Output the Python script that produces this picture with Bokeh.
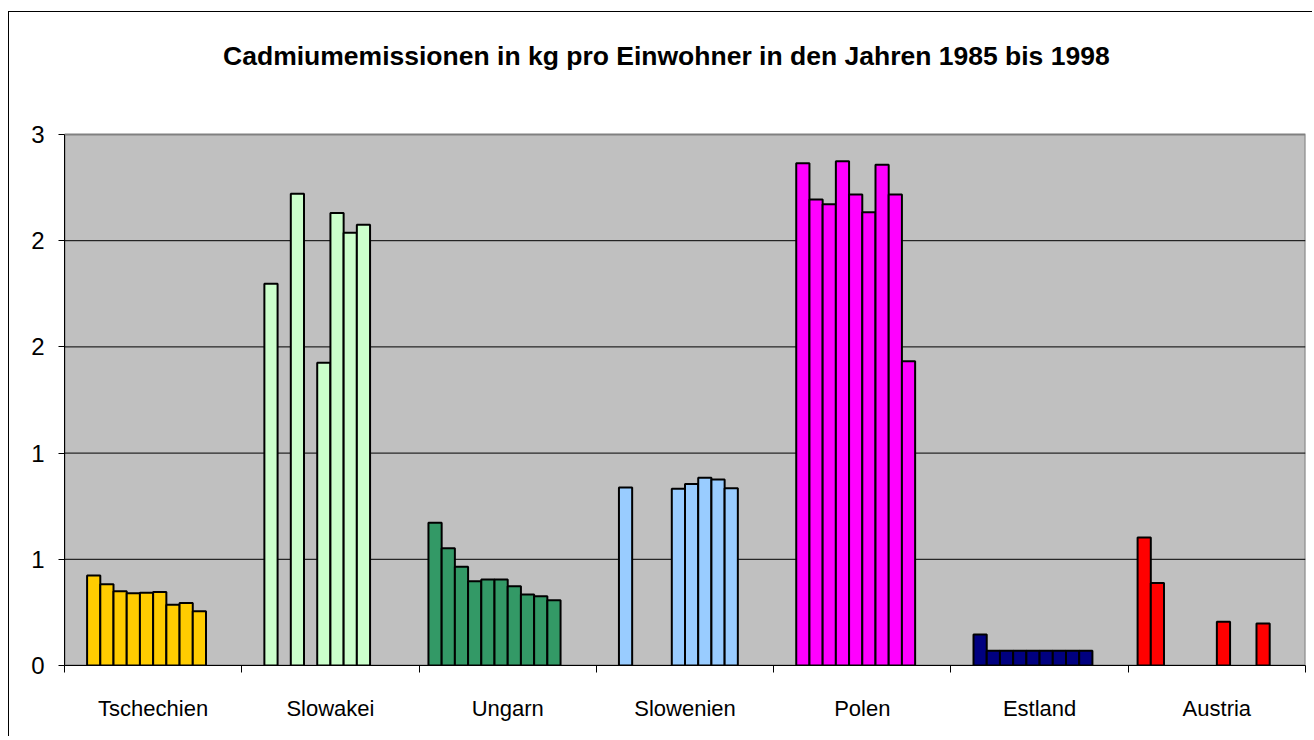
from bokeh.plotting import figure
from bokeh.models import ColumnDataSource, Range1d, FixedTicker, Label
from bokeh.embed import file_html
from bokeh.resources import INLINE

title_text = "Cadmiumemissionen in kg pro Einwohner in den Jahren 1985 bis 1998"
countries = ["Tschechien", "Slowakei", "Ungarn", "Slowenien", "Polen", "Estland", "Austria"]
colors = ["#FFCC00", "#CCFFCC", "#339966", "#99CCFF", "#FF00FF", "#000080", "#FF0000"]
y_ticks = [0, 0.5, 1, 1.5, 2, 2.5]
y_tick_labels = ["0", "1", "1", "2", "2", "3"]

# 12 series (years) per country, None = no value
tschechien = [None, 0.424, 0.382, 0.350, 0.340, 0.343, 0.346, 0.286, 0.294, 0.256, None, None]
slowakei = [None, 1.797, None, 2.221, None, 1.425, 2.130, 2.037, 2.075, None, None, None]
ungarn = [0.672, 0.552, 0.465, 0.397, 0.405, 0.405, 0.373, 0.334, 0.326, 0.307, None, None]
slowenien = [None, 0.838, None, None, None, 0.832, 0.854, 0.884, 0.876, 0.835, None, None]
polen = [None, 2.365, 2.194, 2.172, 2.374, 2.218, 2.134, 2.357, 2.218, 1.433, None, None]
estland = [None, 0.146, 0.069, 0.069, 0.069, 0.069, 0.069, 0.069, 0.069, 0.069, None, None]
austria = [0.603, 0.388, None, None, None, None, 0.206, None, None, 0.198, None, None]

series_by_country = [tschechien, slowakei, ungarn, slowenien, polen, estland, austria]

n_series = 12
gap_width = 1.42  # gap between clusters, as multiple of bar width
bar_w = 1.0 / (n_series + gap_width)
offset = gap_width / 2 * bar_w

xs, tops, fills = [], [], []
for i, vals in enumerate(series_by_country):
    for j, v in enumerate(vals):
        if v is None:
            continue
        xs.append(i + offset + (j + 0.5) * bar_w)
        tops.append(v)
        fills.append(colors[i])

src = ColumnDataSource(dict(x=xs, top=tops, color=fills))

y_max = y_ticks[-1]
n_cat = len(countries)
# layout: canvas top -> plot-area top -> plot-area bottom (pixels)
canvas_h, top_gap, area_h = 725, 122, 531
y_end = y_max * (top_gap + area_h) / area_h

p = figure(width=1304, height=canvas_h,
           x_range=Range1d(0, n_cat), y_range=Range1d(0, y_end),
           output_backend="svg", toolbar_location=None, title_location=None,
           min_border_left=55, min_border_right=8, min_border_top=0,
           min_border_bottom=canvas_h - top_gap - area_h,
           background_fill_color="white", border_fill_color="white",
           outline_line_color=None)
p.styles = {"margin-left": "8px", "margin-top": "11px",
            "border-top": "1px solid black", "border-left": "1px solid black"}

# plot area background with gray border
p.quad(left=0, right=n_cat, bottom=0, top=y_max, fill_color="#C0C0C0",
       line_color="#808080", line_width=2)
# horizontal gridlines
grid_vals = [t for t in y_ticks if 0 < t < y_max]
p.segment(x0=[0] * len(grid_vals), x1=[n_cat] * len(grid_vals), y0=grid_vals, y1=grid_vals,
          line_color="black", line_width=1)

p.vbar(x="x", top="top", bottom=0, width=bar_w, source=src,
       fill_color="color", line_color="black", line_width=2)

# title
p.add_layout(Label(x=3.395, y=2.87, text=title_text, text_align="center",
                   text_baseline="alphabetic", text_font="Liberation Sans",
                   text_font_style="bold", text_font_size="26.5px", text_color="black"))

p.xgrid.visible = False
p.ygrid.visible = False

# x axis
centers = [i + 0.5 for i in range(n_cat)]
p.xaxis.ticker = FixedTicker(ticks=centers, minor_ticks=list(range(n_cat + 1)))
p.xaxis.major_label_overrides = {c: name for c, name in zip(centers, countries)}
p.xaxis.major_tick_out = 0
p.xaxis.major_tick_in = 0
p.xaxis.minor_tick_out = 7
p.xaxis.minor_tick_in = 0
p.xaxis.minor_tick_line_color = "black"
p.xaxis.axis_line_color = "black"
p.xaxis.major_label_standoff = 23
p.xaxis.major_label_text_font = "Liberation Sans"
p.xaxis.major_label_text_font_size = "22px"
p.xaxis.major_label_text_color = "black"

# y axis
p.yaxis.bounds = (0, y_max)
p.yaxis.ticker = FixedTicker(ticks=y_ticks, minor_ticks=[])
p.yaxis.major_label_overrides = {t: lab for t, lab in zip(y_ticks, y_tick_labels)}
p.yaxis.major_tick_out = 6
p.yaxis.major_tick_in = 0
p.yaxis.major_tick_line_color = "black"
p.yaxis.axis_line_color = "black"
p.yaxis.major_label_standoff = 14
p.yaxis.major_label_text_font = "Liberation Sans"
p.yaxis.major_label_text_font_size = "24px"
p.yaxis.major_label_text_color = "black"

open("out.html", "w").write(file_html(p, INLINE))
